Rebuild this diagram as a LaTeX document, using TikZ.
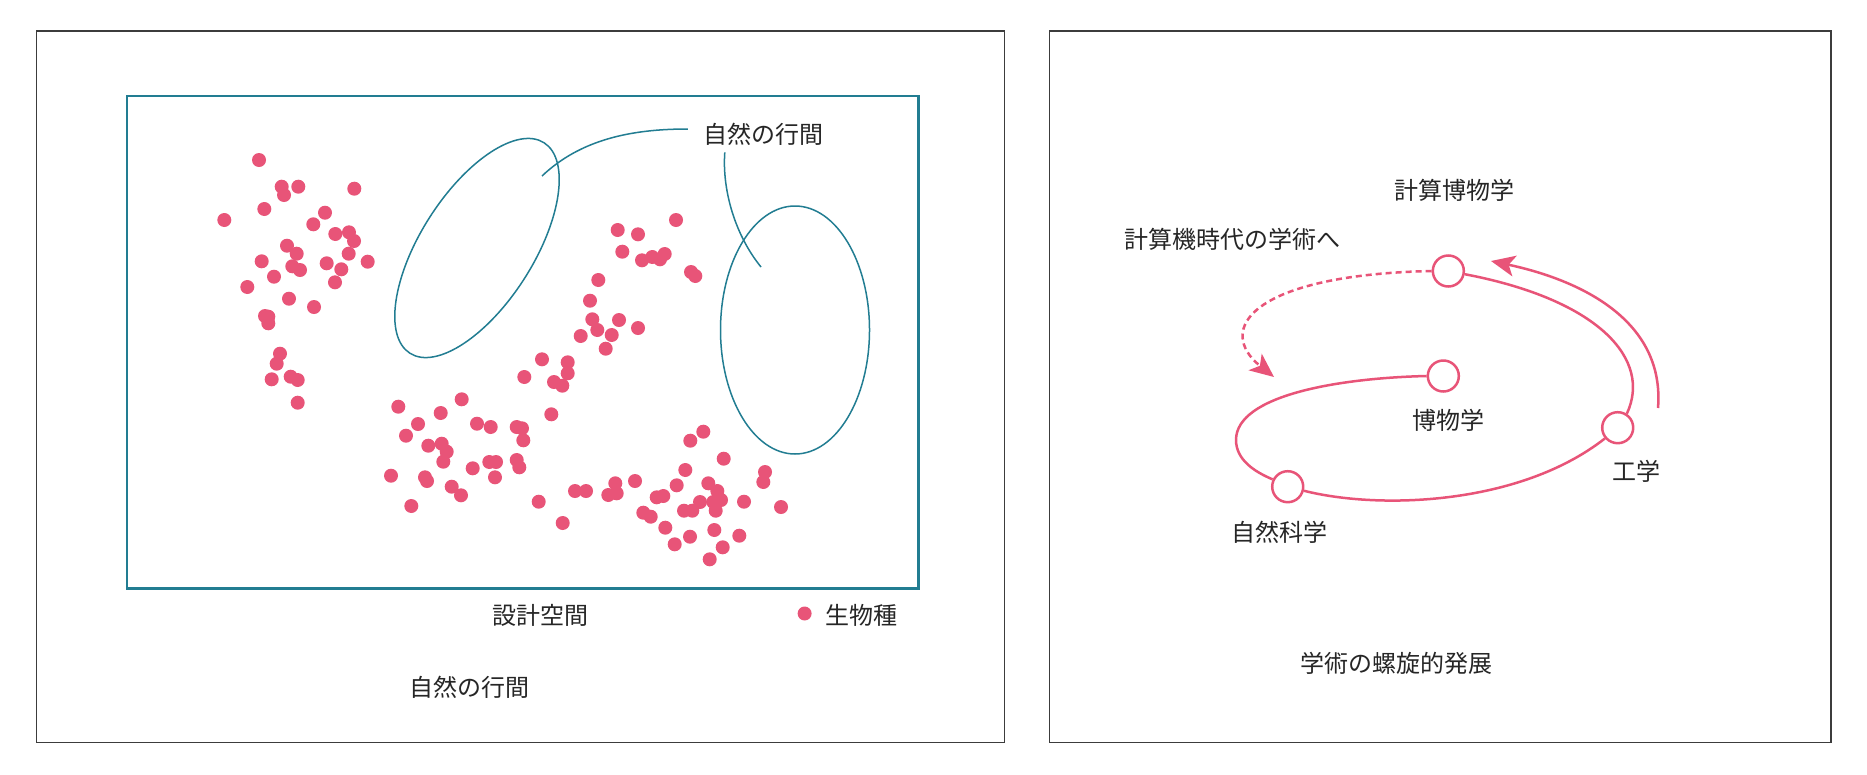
\documentclass[tikz,border=0pt]{standalone}
\usepackage{fontspec}
\newfontfamily\jp{Noto Sans CJK JP}
\usetikzlibrary{arrows.meta}
\definecolor{pinkc}{RGB}{232,84,120}
\definecolor{tealc}{RGB}{34,125,146}
\definecolor{framec}{RGB}{60,60,60}
\begin{document}
\begin{tikzpicture}[x=1pt,y=-1pt,
  panel/.style={draw=framec, line width=1.2pt},
  space/.style={draw=tealc, line width=2.3pt},
  ell/.style={draw=tealc, line width=1.5pt},
  txt/.style={font=\jp\fontsize{24pt}{28pt}\selectfont, text=black!85, inner sep=0pt},
  dot/.style={fill=pinkc},
  ring/.style={circle, draw=pinkc, line width=2.5pt, fill=white, minimum size=31pt, inner sep=0pt},
  flow/.style={draw=pinkc, line width=2.5pt},
  tipx/.style={-{Stealth[length=24pt,width=21pt,inset=6pt]}},
  dashflow/.style={flow, dash pattern=on 6pt off 4pt}
]
\useasboundingbox (0,0) rectangle (1867,774);
\fill[white] (0,0) rectangle (1867,774);

% panels
\draw[panel] (36.3,31) rectangle (1004.5,742.5);
\draw[panel] (1049.7,31) rectangle (1831,742.5);

% design space
\draw[space] (126.7,96) rectangle (918.5,588.5);

% species dots
\foreach \px/\py in {
 259/160,281.7/186.7,298.3/186.7,284/195,354.3/188.7,264.3/209,224.3/220,325/212.7,313.3/224.3,335.3/234,
 349/232.3,354/241,287/245.7,296.7/253.7,348.7/253.7,367.7/261.7,261.7/261.3,292.3/266.3,300/270,326.7/263.3,
 341.3/269.3,274/276.7,335/282.3,247.3/287,289/298.7,314/307,265/316,268.3/323.3,268.3/316.7,280/353.7,
 276.7/363.7,271.7/379.3,290.7/376.7,297.7/380,297.7/402.7,
 398.3/406.7,461.7/399.3,440.7/413,418/424,406/435.7,477/423.7,490.7/427,516.7/427,522/428.3,551.3/414.3,
 523.3/440.3,428.3/445.7,441.7/443.7,446.7/451.7,443.3/461.7,489.3/462,496/462,516.7/460,519.3/467.3,472.7/468.3,
 391/475.7,425/477.3,427/481,495/477.3,451.7/486.7,461/495.3,411.3/506,538.7/501.7,562.7/523,
 676/220,617.7/230,638/234.3,622.3/251.7,642/260.3,652.3/257,660/259.3,664.7/254,691/272,695.3/276,
 598.3/280,590/300.7,592.3/319.3,619/320,597.3/330,611.7/335,638/328,580.7/336,605.7/348.7,542/359.3,
 567.7/362.3,567.7/373.3,524.3/377,554/382,562.3/385.7,
 703.3/431.7,690.3/440.7,723.7/458.7,685.3/470,765/472,763.3/482,575/491,586/491,608.3/495,615.3/483.3,
 616.7/493.3,635/481,676.7/485.3,656.7/497.3,663.3/496,708.3/483.3,717.3/491,700/502,713.3/502,721/500,
 715.7/510.7,684/510.7,692.3/510.7,744/501.7,781/507,643.3/512.7,650.7/516.7,665.3/527.7,714.3/530,690/536.7,
 739.3/535.7,674.7/544.3,722.7/547.3,709.7/559.3}
 \fill[dot] (\px,\py) circle[radius=7pt];

% gaps of nature
\draw[ell, rotate around={57.5:(477,248)}] (477,248) ellipse [x radius=124.8pt, y radius=56.4pt];
\draw[ell] (795,330) ellipse [x radius=74.5pt, y radius=124pt];

\node[txt] (nl) at (763,134) {自然の行間};
\coordinate (e1end) at (542,176);
\coordinate (e2end) at (761,267);
\draw[ell] ([xshift=-15pt,yshift=5pt]nl.west) .. controls (630,129) and (580,140) .. (e1end);
\draw[ell] ([xshift=22pt,yshift=-7pt]nl.south west) .. controls (722,190) and (735,235) .. (e2end);

% labels left
\node[txt] (ds) at (540,615) {設計空間};
\node[txt] (leg) at (861.8,615) {生物種};
\fill[dot] ([xshift=-21pt,yshift=1.5pt]leg.west) circle[radius=7pt];
\node[txt] (capL) at (469.6,687) {自然の行間};

% right panel
\node[ring] (top) at (1448.3,271) {};
\node[ring] (mid) at (1443.3,376) {};
\node[ring] (eng) at (1617.7,427.7) {};
\node[ring] (nat) at (1287.7,486.7) {};

\node[txt] (ltop) at (1454.7,190) {計算博物学};
\node[txt] (lfut) at (1232,239) {計算機時代の学術へ};
\node[txt] (lmid) at (1448.4,420) {博物学};
\node[txt] (leng) at (1636,471) {工学};
\node[txt] (lnat) at (1279.6,532.5) {自然科学};
\node[txt] (capR) at (1396,663) {学術の螺旋的発展};

\draw[flow] (mid.180) .. controls (1340,378) and (1236,395) .. (1236,440)
  .. controls (1236,460) and (1255,472) .. (nat.154);
\draw[flow] (nat.-14) .. controls (1380,510) and (1520,505) .. (eng.220);
\draw[flow] (eng.57) .. controls (1652,360) and (1600,300) .. (top.-11);

\coordinate (dtip) at (1274,377);
\draw[dashflow, tipx] (top.180) .. controls (1250,275) and (1215,330) .. (dtip);

\coordinate (as) at (1658,408);
\coordinate (at) at (1491,261);
\draw[flow, tipx] (as) .. controls (1665,320) and (1580,280) .. (at);
\end{tikzpicture}
\end{document}
